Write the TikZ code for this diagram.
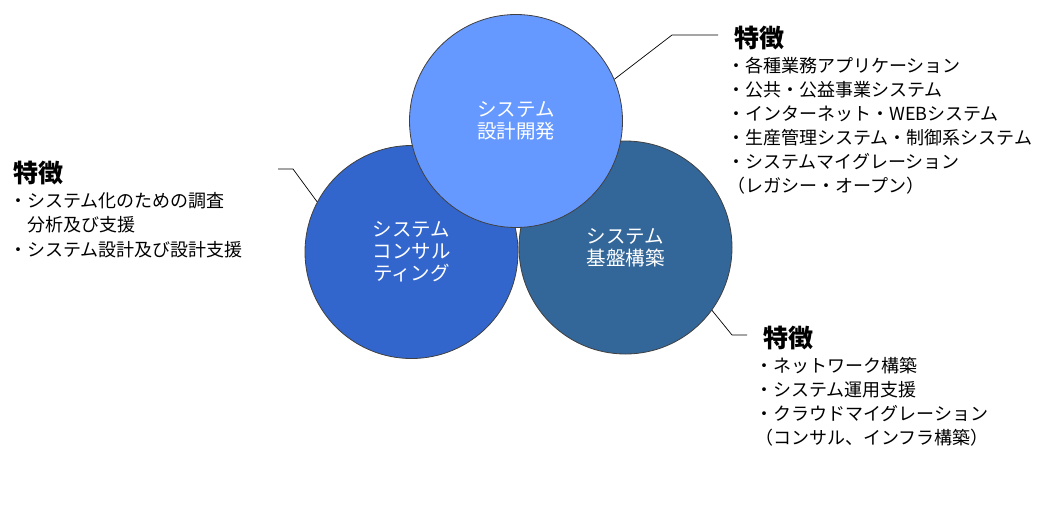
\documentclass[tikz,border=0pt]{standalone}
\usepackage{fontspec}
\setmainfont{Noto Sans CJK JP}
\begin{document}
\begin{tikzpicture}[x=1pt,y=-1pt,
  bubble/.style={circle, minimum size=213pt, inner sep=0pt, draw=black!75, line width=0.8pt,
    text=white, align=center, font=\fontsize{19.5}{22}\selectfont},
  feattitle/.style={anchor=base west, inner sep=0pt, font=\fontsize{25}{28}\selectfont\bfseries},
  featline/.style={anchor=base west, inner sep=0pt, font=\fontsize{18}{24}\selectfont},
  leader/.style={draw=black, line width=0.7pt}]
\useasboundingbox (0,0) rectangle (1049,507);
\definecolor{cTop}{RGB}{102,153,255}
\definecolor{cLeft}{RGB}{51,102,204}
\definecolor{cRight}{RGB}{51,102,153}
% circles
\node[bubble, fill=cLeft] (cons) at (411.5,252) {システム\\コンサル\\ティング};
\node[bubble, fill=cRight] (infra) at (625.5,247.5) {システム\\基盤構築};
\node[bubble, fill=cTop] (dev) at (516,121) {システム\\設計開発};
% top-right block
\node[feattitle] (t1) at (734,47.5) {特徴};
\node[featline] (a1) at (727,72) {・各種業務アプリケーション};
\node[featline] (a2) at (727,96) {・公共・公益事業システム};
\node[featline] (a3) at (727,120) {・インターネット・WEBシステム};
\node[featline] (a4) at (727,144) {・生産管理システム・制御系システム};
\node[featline] (a5) at (727,168) {・システムマイグレーション};
\node[featline] (a6) at (727,192) {（レガシー・オープン）};
% left block
\node[feattitle] (t2) at (13,182.5) {特徴};
\node[featline] (b1) at (9,207) {・システム化のための調査};
\node[featline] (b2) at (9,231.5) {　分析及び支援};
\node[featline] (b3) at (9,256) {・システム設計及び設計支援};
% bottom-right block
\node[feattitle] (t3) at (763,347.5) {特徴};
\node[featline] (c1) at (755,372) {・ネットワーク構築};
\node[featline] (c2) at (755,396) {・システム運用支援};
\node[featline] (c3) at (755,420) {・クラウドマイグレーション};
\node[featline] (c4) at (755,444) {（コンサル、インフラ構築）};
% leader lines
\coordinate (k1) at (672,35);
\coordinate (e1) at (718,35);
\draw[leader] (dev.23.5) -- (k1) -- (e1);
\coordinate (k2) at (293,169);
\coordinate (e2) at (278,169);
\draw[leader] (cons.152.2) -- (k2) -- (e2);
\coordinate (k3) at (732,335);
\coordinate (e3) at (747,335);
\draw[leader] (infra.-36.2) -- (k3) -- (e3);
\end{tikzpicture}
\end{document}
